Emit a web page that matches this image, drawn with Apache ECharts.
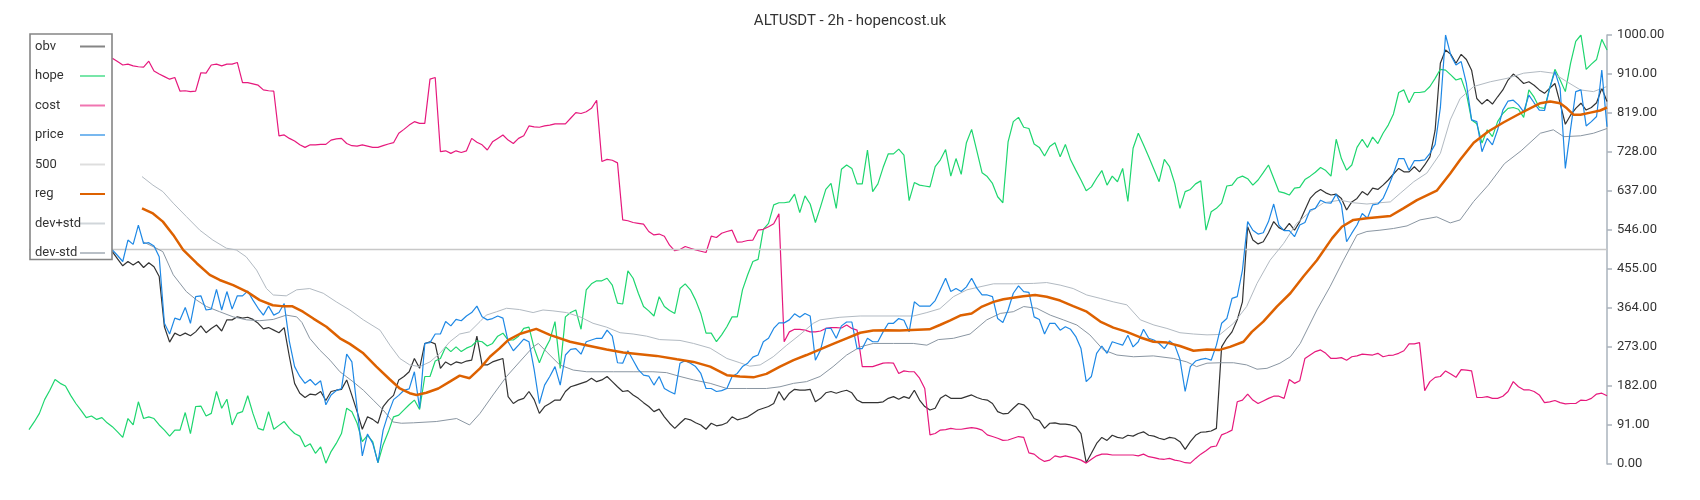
<!DOCTYPE html>
<html><head><meta charset="utf-8">
<script src="https://cdn.jsdelivr.net/npm/echarts@6/dist/echarts.min.js"></script>
<style>html,body{margin:0;padding:0;background:#fff}#c{width:1700px;height:500px}</style>
</head><body><div id="c"></div>
<script>
// x positions are bar indices (0 .. 303); jagged series start at index 16
const lastIndex = 303;
const yTicks = {min: 0, max: 1000, interval: 91};

const obvStart = 16;
const obv = [
495,478,462,472,464,472,458,469,460,437,
320,284,305,299,305,299,308,322,306,316,
324,310,336,336,343,340,342,337,328,315,
318,312,306,318,250,188,165,155,163,161,
169,148,169,172,174,196,160,122,81,110,
104,95,134,149,160,196,204,215,246,223,
281,285,280,223,238,231,238,235,240,242,
298,231,231,238,242,246,157,141,149,153,
169,150,118,134,141,149,149,169,180,184,
188,192,200,192,196,204,192,180,169,171,
161,153,143,134,122,128,110,95,83,95,
106,103,96,91,81,95,89,91,96,110,
103,106,110,118,126,130,134,141,169,149,
165,174,172,172,174,145,153,166,169,165,
169,172,166,149,143,143,143,143,145,153,
157,151,157,153,172,149,134,126,130,153,
161,153,153,153,157,161,155,151,149,141,
122,117,118,130,141,138,126,106,101,83,
95,96,93,93,91,87,71,3,25,48,
62,55,67,62,60,67,65,71,75,67,
65,60,57,62,60,52,34,52,67,74,
75,77,83,273,293,308,336,378,553,522,
513,518,539,565,551,545,561,545,565,592,
619,632,640,632,627,629,619,592,611,619,
635,627,643,640,650,662,676,689,681,681,
693,681,697,716,778,934,965,955,934,955,
943,918,852,839,850,839,856,872,895,909,
899,887,891,883,872,864,876,887,841,792,
813,829,841,825,831,842,876,845];

const hopeStart = 0;
const hope = [
80,98,118,150,172,197,188,182,160,141,125,108,112,104,108,96,
87,75,62,106,91,145,106,110,106,91,
79,65,79,79,120,71,134,135,112,118,
169,130,151,91,118,122,159,118,83,79,
122,81,90,99,83,71,65,40,47,25,
40,2,29,48,71,130,122,95,52,67,
52,3,45,75,110,114,126,138,149,127,
204,204,240,246,273,262,273,262,270,275,
287,285,275,281,298,305,289,289,298,316,
319,270,236,266,289,332,223,343,353,359,
314,406,420,427,427,433,417,375,373,450,
433,398,367,357,345,390,367,358,351,409,
420,406,382,351,305,305,285,301,320,343,
343,406,441,472,477,547,561,604,609,609,
611,629,586,625,606,563,600,640,654,596,
687,697,689,653,653,732,635,653,691,723,
723,734,720,614,656,650,648,646,693,709,
733,671,712,675,749,780,730,679,670,654,
623,609,751,798,808,785,782,746,738,718,
740,749,716,745,709,685,662,637,646,666,
684,650,671,658,689,612,736,771,744,716,
687,658,710,693,654,596,635,640,653,660,
545,588,596,608,648,650,666,671,665,650,
662,679,697,666,635,632,627,643,645,663,
671,680,691,684,671,757,712,685,697,738,
757,738,762,747,771,790,816,866,872,842,
866,866,868,880,899,920,918,907,895,899,
864,802,793,748,779,763,798,817,829,831,
827,808,872,855,831,829,876,920,895,868,
934,985,1000,920,932,943,990,965];

const costStart = 16;
const cost = [
946,938,930,932,928,926,925,939,916,909,
903,897,901,869,870,868,869,912,911,930,
932,928,932,932,936,889,889,886,883,872,
870,869,765,767,759,753,744,738,744,744,
745,745,755,758,759,747,742,741,744,741,
738,738,742,746,749,771,780,790,798,794,
794,897,901,728,730,724,730,726,730,759,
750,744,732,751,759,767,755,747,759,765,
788,786,785,788,790,793,793,793,806,819,
817,821,829,848,705,710,708,702,569,567,
563,561,559,542,534,536,531,510,497,500,
507,503,499,496,493,531,528,538,542,545,
517,518,521,522,545,547,553,560,583,285,
308,314,314,312,308,308,310,316,318,318,
317,324,316,312,227,227,227,231,235,236,
235,211,217,215,215,200,176,68,71,79,
80,83,81,81,83,85,83,79,68,64,
60,55,56,60,64,62,26,23,13,6,
9,19,16,19,16,13,9,2,11,19,
23,23,21,21,21,21,21,19,23,17,
15,12,11,13,9,7,3,2,13,23,
31,40,42,68,73,79,145,149,163,149,
141,147,153,158,158,153,197,188,194,246,
254,262,266,258,246,246,248,242,250,252,
256,255,254,258,250,253,254,258,264,280,
280,283,171,192,202,204,217,210,202,220,
219,217,155,155,157,153,153,158,169,192,
180,173,173,169,161,143,145,148,143,140,
141,141,149,148,153,163,165,159];

const priceStart = 16;
const price = [
499,486,472,522,512,557,514,516,508,483,
328,303,340,336,365,328,390,392,359,361,
407,359,402,361,392,392,403,382,363,347,
368,347,353,374,285,227,204,188,197,184,
194,138,161,171,176,256,238,130,19,70,
48,3,79,118,150,160,172,175,215,130,
281,283,303,303,332,322,337,334,345,353,
368,343,336,339,345,340,285,264,277,291,
285,220,141,184,204,227,184,254,267,269,
256,285,289,293,293,312,298,236,235,264,
242,220,207,205,184,204,176,169,163,235,
241,235,227,211,176,176,169,171,176,204,
211,227,235,249,254,285,293,316,329,329,
336,350,342,351,345,242,266,316,316,293,
322,331,331,269,269,293,285,285,308,328,
328,339,335,308,378,368,368,368,381,407,
433,402,409,402,413,433,410,394,394,390,
339,330,359,398,415,402,400,343,337,303,
328,328,312,320,314,297,269,192,204,258,
275,258,285,281,277,300,273,285,314,293,
289,281,269,287,277,244,169,227,240,244,
246,242,277,328,339,386,390,452,565,545,
536,539,565,606,557,544,544,530,557,563,
592,596,615,609,608,629,604,518,538,557,
584,573,604,606,619,646,677,712,712,685,
707,707,709,724,745,830,1000,953,930,938,
887,802,798,728,759,744,779,825,846,848,
837,821,860,842,825,824,876,915,876,689,
780,868,872,788,798,810,918,786];

const level500 = [[0, 500], [303, 500]];

const reg = [[21.7,596],[23.8,584],[25.7,565],[27.7,534],[29.6,499],[32.2,468],[34.7,441],[36.6,429],[39.2,417],[41.8,402],[44.3,382],[46.8,370],[48.5,368],[50.5,368],[52.6,355],[54.6,339],[57.1,320],[59.7,293],[61.6,280],[64.2,258],[66.7,227],[69.3,197],[71.2,176],[73.1,165],[74.4,161],[76.3,166],[78.6,176],[80.8,192],[82.7,206],[84.6,200],[86.6,223],[88.5,250],[90.4,270],[92,289],[94.2,303],[97.4,315],[100,301],[103.9,285],[107,277],[110.9,267],[114.1,260],[117.3,256],[120.5,252],[124.4,244],[127.6,238],[130.8,227],[134,207],[136.5,204],[139.1,202],[141.6,210],[144.2,227],[146.8,242],[149.3,254],[151.9,267],[154.4,280],[157,293],[159.6,306],[162.1,311],[164.7,312],[167.2,311],[172.9,314],[174.9,324],[176.9,335],[178.8,346],[181,351],[183,367],[185.2,378],[187.1,384],[190.9,391],[193.2,394],[195.4,390],[198,381],[200.5,368],[203.1,355],[205.7,332],[208.2,318],[210.8,308],[213.4,295],[215.9,285],[218.5,283],[221,275],[223.6,264],[226.2,267],[228.6,266],[230.6,273],[233.2,285],[234.8,308],[237,332],[239.6,367],[242.2,398],[244.7,437],[247.3,475],[250.2,526],[252.1,553],[254.3,569],[256.9,573],[259.4,576],[261.4,578],[263.9,596],[266.5,615],[270.3,637],[272.9,677],[274.8,709],[277.4,749],[280.2,775],[283.1,796],[286.3,817],[290.2,841],[292.1,845],[294,841],[295.3,829],[296.6,814],[297.9,814],[299.8,819],[301.7,824],[303,831]];

const devPlus = [[21.7,670],[23.8,650],[25.7,635],[27.7,608],[30.2,577],[32.8,545],[35.3,522],[37.9,503],[39.8,499],[41.7,483],[43.7,452],[45.6,409],[46.9,394],[49.4,392],[51.4,406],[53.9,409],[56.5,398],[59,378],[61.6,359],[64.2,336],[67.4,312],[69.3,277],[71.2,246],[73.1,231],[75,227],[77,238],[78.9,258],[80.8,285],[82.7,303],[84.6,308],[86.6,332],[87.8,347],[89.8,355],[91.7,363],[94.2,360],[96.8,353],[98.7,359],[100.6,357],[103.2,353],[105.8,343],[108.3,328],[110.9,319],[113.5,306],[116,303],[118.6,298],[121.1,290],[125,288],[127.6,281],[130.8,270],[134,246],[136.5,236],[138.4,228],[140.4,231],[142.9,250],[145.5,277],[148,301],[150.6,328],[151.9,336],[155.7,342],[159.6,345],[167.2,345],[169.8,345],[172.4,353],[174.9,362],[177.5,390],[180.1,406],[182.6,413],[185.2,420],[189,420],[192.9,421],[195.4,423],[198,417],[200.5,409],[203.1,394],[205.7,386],[208.2,378],[210.8,371],[213.4,336],[216,324],[218.5,316],[221,306],[223.6,303],[226.2,301],[228.7,302],[231.3,328],[233.8,367],[235.8,421],[238.3,475],[240.9,514],[243.4,561],[246,588],[248.6,609],[251.8,615],[254.3,609],[256.9,606],[259.4,609],[261.4,611],[263.3,631],[265.9,658],[268.4,678],[271,724],[272.9,802],[274.8,852],[277.4,880],[280.6,891],[283.8,899],[287,911],[290.2,915],[292.7,911],[295.3,891],[297.9,872],[300.4,868],[303,880]];

const devMinus = [[21.9,518],[23.8,507],[25.7,495],[27.7,441],[30.2,402],[32.2,382],[34.1,367],[36.6,355],[39.2,343],[41.8,336],[44.3,334],[46.9,337],[49.4,347],[51.4,343],[52.4,330],[53.9,293],[55.8,266],[57.8,242],[59.7,215],[62.2,192],[64.2,172],[66.1,149],[68,126],[69.9,98],[71.5,95],[73.8,96],[78.2,99],[82.1,106],[84.6,91],[86.6,118],[89.1,161],[91.7,204],[94.2,238],[96.8,273],[97.8,281],[99.5,260],[101.9,231],[104.5,219],[107.1,215],[112.2,215],[116,215],[119.8,215],[122.4,213],[125,204],[127.6,196],[130.8,188],[134,176],[137.8,176],[141.6,176],[144.2,180],[146.8,188],[149.3,192],[151.9,204],[154.4,227],[157,254],[159.6,273],[162.1,281],[166,281],[169.8,281],[172.4,277],[174.6,290],[177.5,293],[180.7,303],[183.9,336],[186.5,351],[189,355],[191,367],[193.5,363],[196.1,347],[198.6,336],[201.2,324],[203.7,301],[206.3,266],[208.9,254],[212.1,250],[215.9,252],[219.8,246],[222.3,238],[224.2,227],[226.2,235],[228.7,236],[231.3,236],[233.8,231],[235.8,221],[237.7,223],[240.2,235],[242.2,250],[244.1,281],[247.3,359],[249.8,413],[252.4,475],[255,534],[256.9,542],[259.4,545],[262,549],[264.6,555],[267.1,569],[270.3,576],[272.9,562],[274.8,569],[277.4,612],[280.2,650],[283.3,700],[286.5,730],[290.2,771],[292.7,779],[294.7,763],[297.9,765],[300.4,771],[303,782]];

const seriesNames = ['obv', 'hope', 'cost', 'price', '500', 'reg', 'dev+std', 'dev-std'];
const colors = {
  'obv': '#333333', 'hope': '#1ed66f', 'cost': '#e6197d', 'price': '#1e88e5',
  '500': '#c8c8c8', 'reg': '#dd6100', 'dev+std': '#b2bac2', 'dev-std': '#8a96a2'
};

function indexed(arr, start) { return arr.map((v, k) => [start + k, v]); }

function line(name, data, width, z) {
  return {
    name: name, type: 'line', data: data, symbol: 'none', showSymbol: false,
    smooth: false, z: z, animation: false, silent: true,
    lineStyle: {color: colors[name], width: width},
    itemStyle: {color: colors[name]}
  };
}

const legendText = {fontSize: 13, color: '#333', fontFamily: 'Roboto, sans-serif'};

const chart = echarts.init(document.getElementById('c'), null, {renderer: 'canvas'});
chart.setOption({
  animation: false,
  backgroundColor: '#ffffff',
  textStyle: {fontFamily: 'Roboto, sans-serif'},
  title: {
    text: 'ALTUSDT - 2h - hopencost.uk', left: 'center', top: 9,
    textStyle: {fontSize: 15, fontWeight: 'normal', color: '#333', fontFamily: 'Roboto, sans-serif'}
  },
  legend: {
    orient: 'vertical', left: 30, top: 34, align: 'right',
    backgroundColor: '#ffffff', borderColor: '#858585', borderWidth: 1.6, borderRadius: 0,
    padding: [6, 6, 0, 5], itemGap: 16.5, itemWidth: 25, itemHeight: 14,
    itemStyle: {opacity: 0},
    textStyle: Object.assign({}, legendText, {rich: {t: Object.assign({width: 40, align: 'left'}, legendText)}}),
    formatter: n => '{t|' + n + '}',
    data: seriesNames.map(n => ({name: n, lineStyle: {opacity: n === 'reg' ? 1 : 0.6}}))
  },
  grid: {left: 29, right: 93, top: 35, bottom: 36, containLabel: false},
  xAxis: {type: 'value', min: 0, max: lastIndex, show: false},
  yAxis: {
    type: 'value', position: 'right', min: yTicks.min, max: yTicks.max, interval: yTicks.interval,
    axisLine: {show: true, onZero: false, lineStyle: {color: '#aab3bc', width: 1.5}},
    axisTick: {show: true, length: 5, lineStyle: {color: '#aab3bc', width: 1.5}},
    axisLabel: {show: true, margin: 10, color: '#333', fontSize: 13,
      fontFamily: 'Roboto, sans-serif', formatter: v => v.toFixed(2)},
    splitLine: {show: false}
  },
  series: [
    line('obv', indexed(obv, obvStart), 1.2, 2),
    line('hope', indexed(hope, hopeStart), 1.2, 2),
    line('cost', indexed(cost, costStart), 1.2, 2),
    line('price', indexed(price, priceStart), 1.2, 3),
    line('500', level500, 1.5, 2),
    line('reg', reg, 2.5, 4),
    line('dev+std', devPlus, 1, 2),
    line('dev-std', devMinus, 1, 2)
  ]
});
</script></body></html>
